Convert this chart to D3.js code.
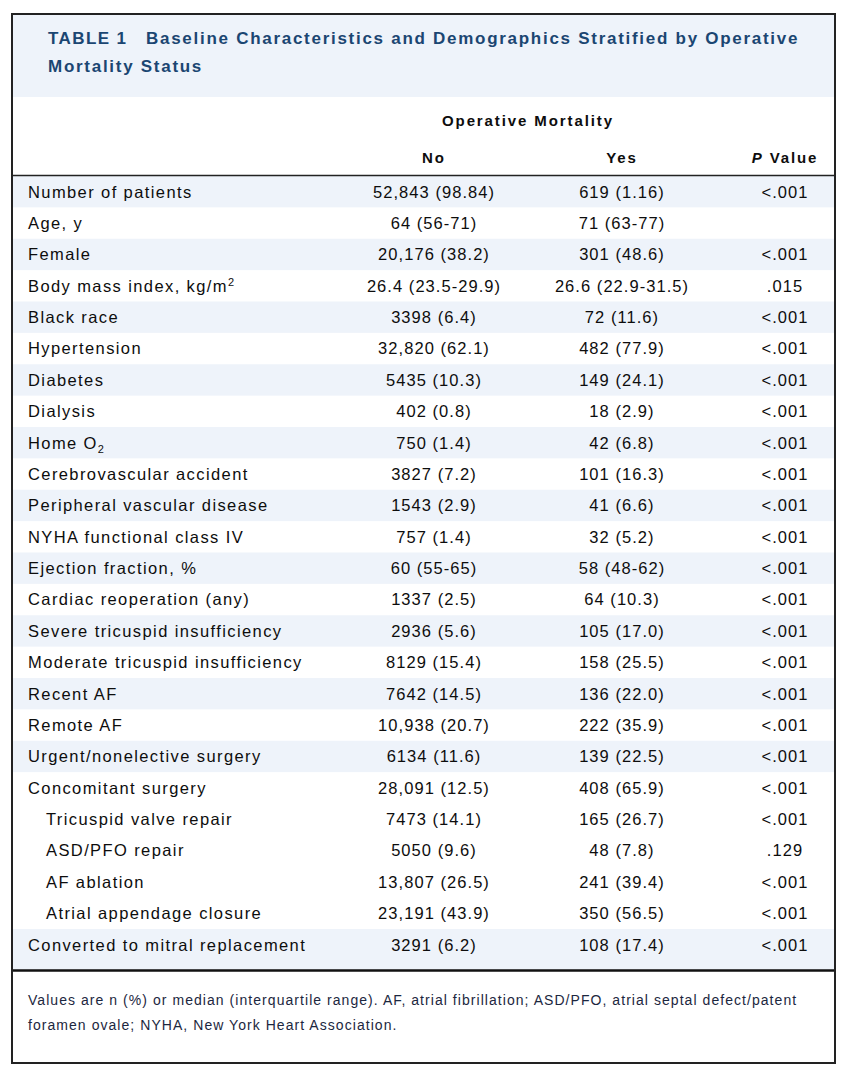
<!DOCTYPE html>
<html><head><meta charset="utf-8">
<script src="https://cdn.jsdelivr.net/npm/d3@7"></script>
<style>
html,body{margin:0;padding:0;background:#fff;}
svg text{font-family:"Liberation Sans",Arial,Helvetica,sans-serif;}
</style></head>
<body>
<svg id="c" width="847" height="1089"></svg>
<script>
const titleLead = "TABLE 1";
const titleLines = ["Baseline Characteristics and Demographics Stratified by Operative", "Mortality Status"];
const groupHeader = "Operative Mortality";
const columnHeaders = ["No", "Yes", "Value"];
const labels = ["Number of patients","Age, y","Female","Body mass index, kg/m","Black race","Hypertension","Diabetes","Dialysis","Home O","Cerebrovascular accident","Peripheral vascular disease","NYHA functional class IV","Ejection fraction, %","Cardiac reoperation (any)","Severe tricuspid insufficiency","Moderate tricuspid insufficiency","Recent AF","Remote AF","Urgent/nonelective surgery","Concomitant surgery","Tricuspid valve repair","ASD/PFO repair","AF ablation","Atrial appendage closure","Converted to mitral replacement"];
const labelSup = {3:"2"};
const labelSub = {8:"2"};
const indented = [20,21,22,23];
const stripeGroup = [0,1,2,3,4,5,6,7,8,9,10,11,12,13,14,15,16,17,18,19,19,19,19,19,20];
const noValues = ["52,843 (98.84)","64 (56-71)","20,176 (38.2)","26.4 (23.5-29.9)","3398 (6.4)","32,820 (62.1)","5435 (10.3)","402 (0.8)","750 (1.4)","3827 (7.2)","1543 (2.9)","757 (1.4)","60 (55-65)","1337 (2.5)","2936 (5.6)","8129 (15.4)","7642 (14.5)","10,938 (20.7)","6134 (11.6)","28,091 (12.5)","7473 (14.1)","5050 (9.6)","13,807 (26.5)","23,191 (43.9)","3291 (6.2)"];
const yesValues = ["619 (1.16)","71 (63-77)","301 (48.6)","26.6 (22.9-31.5)","72 (11.6)","482 (77.9)","149 (24.1)","18 (2.9)","42 (6.8)","101 (16.3)","41 (6.6)","32 (5.2)","58 (48-62)","64 (10.3)","105 (17.0)","158 (25.5)","136 (22.0)","222 (35.9)","139 (22.5)","408 (65.9)","165 (26.7)","48 (7.8)","241 (39.4)","350 (56.5)","108 (17.4)"];
const pValues = ["<.001","","<.001",".015","<.001","<.001","<.001","<.001","<.001","<.001","<.001","<.001","<.001","<.001","<.001","<.001","<.001","<.001","<.001","<.001","<.001",".129","<.001","<.001","<.001"];
const footnote = ["Values are n (%) or median (interquartile range). AF, atrial fibrillation; ASD/PFO, atrial septal defect/patent","foramen ovale; NYHA, New York Heart Association."];

const svg = d3.select("#c");
const L = 12, R = 835, T = 14, headBandBottom = 97, headLine = 175.5, tableBottom = 970.5, boxBottom = 1063;
const blue = "#eef3fa", titleColor = "#1b4672", textColor = "#0d0d0d", noteColor = "#1c2740";

const y = d3.scaleLinear().domain([0, labels.length]).range([176, 176 + labels.length * 31.375]);
const x = d3.scaleOrdinal().domain(["label","no","yes","p"]).range([28, 434, 622, 785]);

// header band
svg.append("rect").attr("x", L).attr("y", T).attr("width", R - L).attr("height", headBandBottom - T).attr("fill", blue);

// stripes
const rows = labels.map((d, i) => ({i, label: d, no: noValues[i], yes: yesValues[i], p: pValues[i], g: stripeGroup[i]}));
svg.selectAll("rect.stripe").data(rows.filter(r => r.g % 2 === 0)).join("rect")
  .attr("class", "stripe")
  .attr("x", L).attr("width", R - L)
  .attr("y", r => y(r.i))
  .attr("height", r => r.i === labels.length - 1 ? tableBottom - y(r.i) : y(r.i + 1) - y(r.i))
  .attr("fill", blue);

// title
const titleStyle = sel => sel.attr("fill", titleColor).style("font-weight", "bold")
  .style("font-size", "17px").style("letter-spacing", "1.72px");
const t1 = svg.append("text").attr("x", 48).attr("y", 44).call(titleStyle);
t1.append("tspan").text(titleLead).style("letter-spacing", "1.4px");
t1.append("tspan").attr("x", 146).text(titleLines[0]);
svg.append("text").attr("x", 48).attr("y", 72).call(titleStyle).text(titleLines[1]);

// column headers
const headStyle = sel => sel.attr("text-anchor", "middle").attr("fill", textColor)
  .style("font-weight", "bold").style("font-size", "15px").style("letter-spacing", "1.9px");
svg.append("text").attr("x", 528).attr("y", 126).call(headStyle).text(groupHeader);
[["no", columnHeaders[0]], ["yes", columnHeaders[1]]].forEach(([k, s]) => {
  svg.append("text").attr("x", x(k)).attr("y", 163).call(headStyle).text(s);
});
const ph = svg.append("text").attr("x", x("p")).attr("y", 163).call(headStyle);
ph.append("tspan").style("font-style", "italic").text("P");
ph.append("tspan").text(" " + columnHeaders[2]);

// rows
const base = r => y(r.i) + 21.5;
const bodyStyle = (sel, ls) => sel.attr("fill", textColor).style("font-size", "16.5px").style("letter-spacing", ls);
const lab = svg.selectAll("text.lab").data(rows).join("text").attr("class", "lab")
  .attr("x", r => indented.includes(r.i) ? 46 : x("label")).attr("y", base).call(bodyStyle, "1.4px");
lab.append("tspan").text(r => r.label);
lab.filter(r => labelSup[r.i]).append("tspan").attr("dy", -6).style("font-size", "11px").text(r => labelSup[r.i]);
lab.filter(r => labelSub[r.i]).append("tspan").attr("dy", 4).style("font-size", "11px").text(r => labelSub[r.i]);

["no", "yes", "p"].forEach(k => {
  svg.selectAll("text.c" + k).data(rows).join("text").attr("class", "c" + k)
    .attr("x", x(k)).attr("y", base).attr("text-anchor", "middle").call(bodyStyle, "1.05px")
    .text(r => r[k]);
});

// lines
svg.append("line").attr("x1", L).attr("x2", R).attr("y1", headLine).attr("y2", headLine).attr("stroke", "#222").attr("stroke-width", 1.6);
svg.append("line").attr("x1", L).attr("x2", R).attr("y1", tableBottom).attr("y2", tableBottom).attr("stroke", "#111").attr("stroke-width", 2.4);
svg.append("rect").attr("x", L).attr("y", T).attr("width", R - L).attr("height", boxBottom - T)
  .attr("fill", "none").attr("stroke", "#222").attr("stroke-width", 2);

// footnote
svg.selectAll("text.note").data(footnote).join("text").attr("class", "note")
  .attr("x", 28).attr("y", (d, i) => 1005 + i * 24.5).attr("fill", noteColor)
  .style("font-size", "14px").style("letter-spacing", "1.05px").text(d => d);
</script>
</body></html>
